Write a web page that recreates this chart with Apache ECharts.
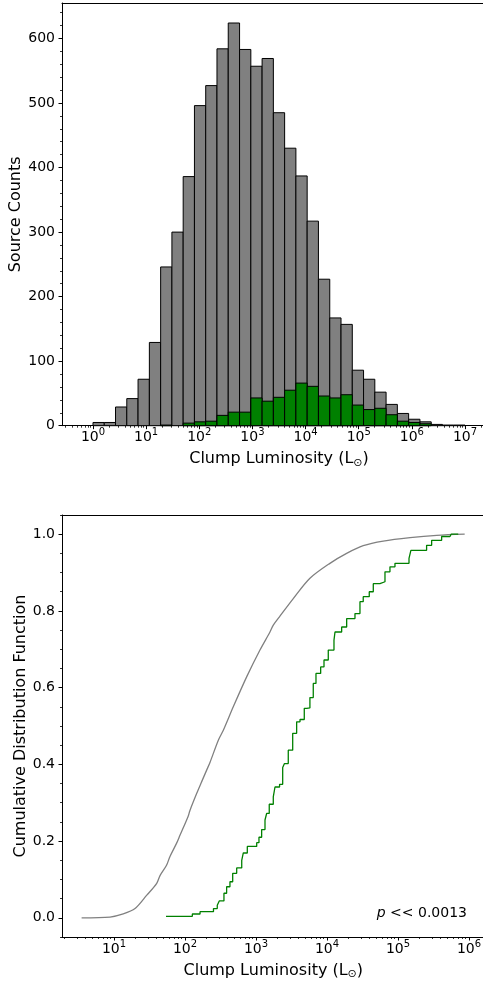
<!DOCTYPE html>
<html><head><meta charset="utf-8">
<script src="https://cdn.jsdelivr.net/npm/echarts@6/dist/echarts.min.js"></script>
<style>html,body{margin:0;padding:0;background:#fff}#c{width:483px;height:985px}</style>
</head><body><div id="c"></div>
<script>
// ---------- DATA ----------
// histogram bin edges, as log10(L / Lsun)
const binEdgeExp = [0.000,0.212,0.424,0.636,0.848,1.061,1.273,1.485,1.697,1.909,2.121,2.333,2.545,2.758,2.970,3.182,3.394,3.606,3.818,4.030,4.242,4.455,4.667,4.879,5.091,5.303,5.515,5.727,5.939,6.152,6.364,6.576,6.788,7.000];
// all clumps (grey)
const allCounts = [5,5,29,42,72,129,246,300,386,496,527,584,624,583,557,569,485,430,387,317,227,167,157,86,72,52,33,19,10,6,2,1,1];
// subset (green)
const subCounts = [0,0,0,0,0,0,1,0,4,6,7,16,21,21,43,38,44,55,66,61,46,43,48,32,25,27,17,7,5,3,0,0,0];
const histTickExp = [0,1,2,3,4,5,6,7];
const countTicks = [0,100,200,300,400,500,600];

// cumulative distributions: luminosity (Lsun) and CDF value
const cdfAllL = [3.5,8.8,13.5,19.8,29,40,44.5,55,61.5,76,85,111,117.5,146,172,202,225,295,347,479,739,1138,1574,1754,2128,3352,5754,11000,18900,32400,62000,148000,351000,870000];
const cdfAllF = [0.0,0.002,0.01,0.024,0.059,0.09,0.11,0.137,0.16,0.194,0.215,0.265,0.28,0.324,0.355,0.385,0.405,0.463,0.489,0.55,0.628,0.698,0.745,0.763,0.784,0.832,0.885,0.924,0.95,0.97,0.982,0.991,0.997,1.0];
const cdfSubL = [54,127,163,252,285,304,354,386,430,470,535,630,663,755,1024,1102,1202,1340,1413,1538,1753,1853,2150,2378,2520,2850,3290,3740,4170,4790,5200,5750,6410,7000,8150,9080,10430,12550,12970,16100,18940,24790,29150,32400,39400,44900,55700,65600,77100,90700,143000,152000,253000,298000,412000,540000,560000,706000];
const cdfSubF = [0.004,0.010,0.016,0.024,0.033,0.044,0.064,0.081,0.094,0.116,0.130,0.150,0.169,0.186,0.196,0.210,0.230,0.255,0.272,0.296,0.315,0.341,0.348,0.392,0.402,0.437,0.481,0.511,0.517,0.546,0.547,0.574,0.611,0.637,0.654,0.672,0.698,0.724,0.745,0.758,0.780,0.793,0.824,0.837,0.850,0.871,0.876,0.902,0.915,0.924,0.937,0.958,0.971,0.984,0.994,0.995,1.0,1.0];
const cdfTickExp = [1,2,3,4,5,6];
const cdfTicks = [0.0,0.2,0.4,0.6,0.8,1.0];
const pLabel = ['p', ' << 0.0013'];

// ---------- LAYOUT / STYLE ----------
const FONT = 'DejaVu Sans';
const GREY = '#808080', GREEN = '#008000';
const rTop = {min:-0.583, max:7.583, ymin:0, ymax:655};
const rBot = {min:0.268, max:6.22, ymin:-0.05, ymax:1.05};

function logMinor(a, b) {
  const out = [];
  for (let n = Math.floor(a); n <= Math.ceil(b); n++)
    for (let k = 2; k <= 9; k++) { const v = n + Math.log10(k); if (v >= a && v <= b) out.push(v); }
  return out;
}
function linMinor(a, b, step, majorStep) {
  const out = [];
  for (let i = Math.ceil(a / step - 1e-9); i * step <= b + 1e-9; i++) {
    const v = +(i * step).toFixed(6);
    if (Math.abs(v / majorStep - Math.round(v / majorStep)) > 1e-6) out.push(v);
  }
  return out;
}
const supRich = {
  b: {fontFamily: FONT, fontSize: 14, color: '#000'},
  s: {fontFamily: FONT, fontSize: 10, color: '#000', padding: [0, 0, 10, 0]}
};
const expFmt = v => '{b|10}{s|' + Math.round(v) + '}';
const axLine = {show: true, onZero: false, lineStyle: {color: '#000', width: 1}};

function xAxes(gi, r, majors, name) {
  return [
    {gridIndex: gi, type: 'value', min: r.min, max: r.max, position: 'bottom',
     axisLine: axLine, splitLine: {show: false},
     axisTick: {show: true, customValues: majors, length: 3.5, lineStyle: {color: '#000', width: 1}},
     axisLabel: {customValues: majors, formatter: expFmt, rich: supRich, margin: 2},
     name: name, nameLocation: 'middle', nameGap: 24, nameMoveOverlap: false,
     nameTextStyle: {fontFamily: FONT, fontSize: 16, color: '#000',
       rich: {n: {fontFamily: FONT, fontSize: 16, color: '#000'},
              o: {fontFamily: FONT, fontSize: 11, color: '#000', padding: [8, 0, 0, 0]}}}},
    {gridIndex: gi, type: 'value', min: r.min, max: r.max, position: 'bottom',
     axisLine: {show: false, onZero: false}, splitLine: {show: false}, axisLabel: {show: false},
     axisTick: {show: true, customValues: logMinor(r.min, r.max), length: 2, lineStyle: {color: '#000', width: 0.8}}},
    {gridIndex: gi, type: 'value', min: r.min, max: r.max, position: 'top',
     axisLine: axLine, splitLine: {show: false}, axisLabel: {show: false}, axisTick: {show: false}}
  ];
}
function yAxes(gi, r, majors, minors, fmt, name, gap) {
  return [
    {gridIndex: gi, type: 'value', min: r.ymin, max: r.ymax, position: 'left',
     axisLine: axLine, splitLine: {show: false},
     axisTick: {show: true, customValues: majors, length: 3.5, lineStyle: {color: '#000', width: 1}},
     axisLabel: {customValues: majors, formatter: fmt, fontFamily: FONT, fontSize: 14, color: '#000', margin: 7},
     name: name, nameLocation: 'middle', nameGap: gap, nameMoveOverlap: false,
     nameTextStyle: {fontFamily: FONT, fontSize: 16, color: '#000'}},
    {gridIndex: gi, type: 'value', min: r.ymin, max: r.ymax, position: 'left',
     axisLine: {show: false, onZero: false}, splitLine: {show: false}, axisLabel: {show: false},
     axisTick: {show: true, customValues: minors, length: 2, lineStyle: {color: '#000', width: 0.8}}}
  ];
}

function histData(counts) {
  const d = [];
  counts.forEach((c, i) => { if (c > 0) d.push([binEdgeExp[i], binEdgeExp[i + 1], c]); });
  return d;
}
function histSeries(counts, color) {
  return {
    type: 'custom', xAxisIndex: 0, yAxisIndex: 0, data: histData(counts),
    encode: {x: [0, 1], y: 2},
    renderItem: (params, api) => {
      const p0 = api.coord([api.value(0), 0]);
      const p1 = api.coord([api.value(1), api.value(2)]);
      return {type: 'rect',
        shape: {x: p0[0], y: p1[1], width: p1[0] - p0[0], height: p0[1] - p1[1]},
        style: {fill: color, stroke: '#000', lineWidth: 1}};
    }
  };
}

const chart = echarts.init(document.getElementById('c'), null, {renderer: 'canvas'});
chart.setOption({
  animation: false,
  backgroundColor: '#fff',
  grid: [
    {left: 62, top: 3, width: 434, height: 422.7, outerBoundsMode: 'none', containLabel: false},
    {left: 62, top: 515, width: 422.6, height: 422, outerBoundsMode: 'none', containLabel: false}
  ],
  xAxis: [
    ...xAxes(0, rTop, histTickExp, '{n|Clump Luminosity (L}{o|⊙}{n|)}'),
    ...xAxes(1, rBot, cdfTickExp, '{n|Clump Luminosity (L}{o|⊙}{n|)}')
  ],
  yAxis: [
    ...yAxes(0, rTop, countTicks, linMinor(0, 655, 20, 100), v => String(Math.round(v)), 'Source Counts', 38),
    ...yAxes(1, rBot, cdfTicks, linMinor(-0.05, 1.05, 0.05, 0.2), v => v.toFixed(1), 'Cumulative Distribution Function', 33)
  ],
  series: [
    histSeries(allCounts, GREY),
    histSeries(subCounts, GREEN),
    {type: 'line', xAxisIndex: 3, yAxisIndex: 2, showSymbol: false, symbol: 'none',
     smooth: 0.3,
     data: cdfAllL.map((L, i) => [Math.log10(L), cdfAllF[i]]),
     lineStyle: {color: GREY, width: 1.3}},
    {type: 'line', xAxisIndex: 3, yAxisIndex: 2, showSymbol: false, symbol: 'none', step: 'end',
     data: cdfSubL.map((L, i) => [Math.log10(L), cdfSubF[i]]),
     lineStyle: {color: GREEN, width: 1.3}}
  ],
  graphic: [{
    type: 'text', right: 16, top: 906,
    style: {text: '{i|' + pLabel[0] + '}{r|' + pLabel[1] + '}',
      rich: {i: {fontFamily: FONT, fontSize: 14, fontStyle: 'italic', fill: '#000'},
             r: {fontFamily: FONT, fontSize: 14, fill: '#000'}}}
  }]
});
</script></body></html>
